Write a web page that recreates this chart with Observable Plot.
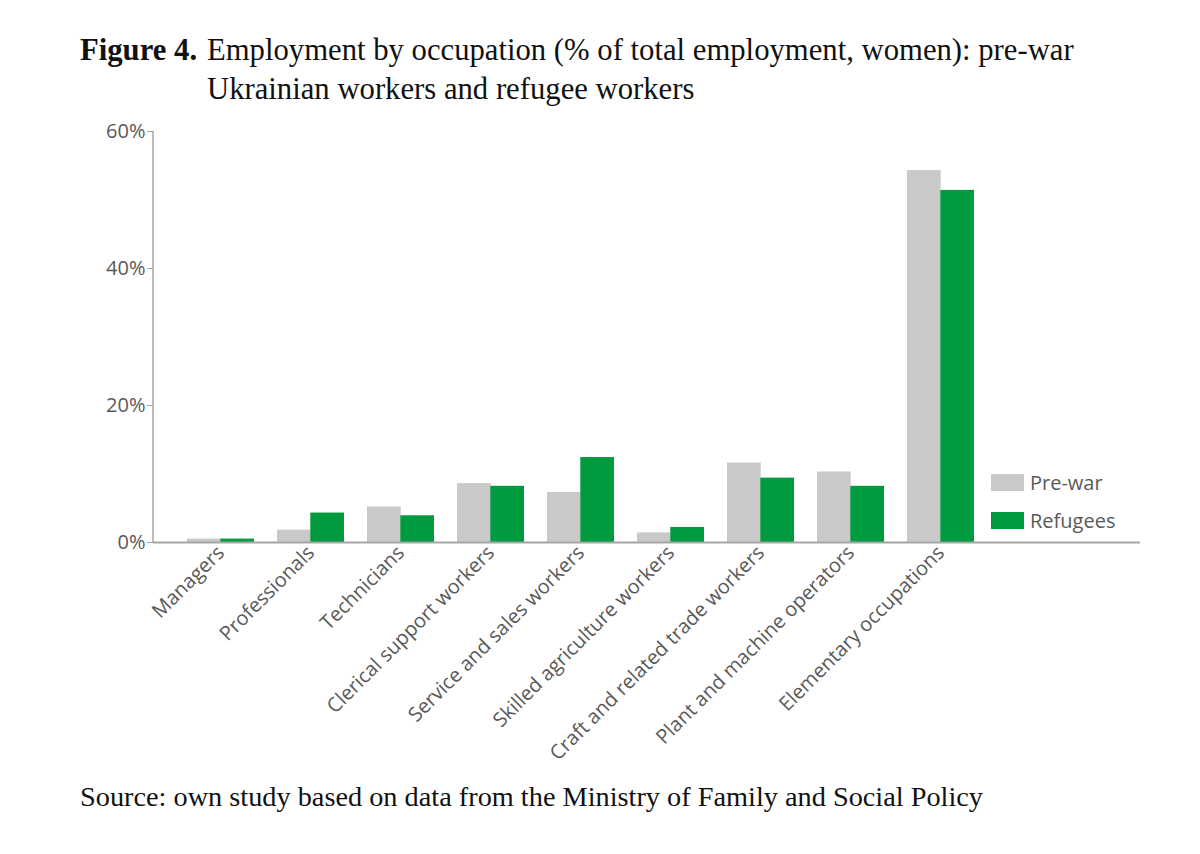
<!DOCTYPE html>
<html>
<head>
<meta charset="utf-8">
<script src="https://cdn.jsdelivr.net/npm/d3@7"></script>
<script src="https://cdn.jsdelivr.net/npm/@observablehq/plot@0.6"></script>
<style>
  html, body { margin: 0; padding: 0; background: #fff; }
  #page { position: relative; width: 1200px; height: 854px; overflow: hidden; }
  #title { box-sizing: border-box; height: 110px; padding: 31px 0 0 80px; display: flex;
           font-family: "Liberation Serif", "DejaVu Serif", serif; font-size: 30.7px; line-height: 39px; color: #111; }
  #title .lab { width: 127px; flex: none; font-weight: bold; }
  #chart svg { display: block; }
  #chart svg text { font-size: 20px; }
  #caption { margin: 11px 0 0 80px; font-family: "Liberation Serif", serif; font-size: 28.3px; line-height: 32px; color: #111; }
  .leg { position: absolute; font-family: "Open Sans", sans-serif; font-size: 20px; color: #595959; display: flex; align-items: center; }
  .leg span.sw { display: inline-block; width: 33px; height: 17px; margin-right: 6px; }
</style>
</head>
<body>
<div id="page">
  <div id="title"><div class="lab">Figure 4.</div><div>Employment by occupation (% of total employment, women): pre-war<br>Ukrainian workers and refugee workers</div></div>
  <div id="chart"></div>
  <div id="caption">Source: own study based on data from the Ministry of Family and Social Policy</div>
  <div id="legend"></div>
</div>
<script>
const categories = [
  "Managers", "Professionals", "Technicians", "Clerical support workers",
  "Service and sales workers", "Skilled agriculture workers",
  "Craft and related trade workers", "Plant and machine operators", "Elementary occupations"
];
const preWar   = [0.5, 1.8, 5.2, 8.6, 7.3, 1.4, 11.6, 10.3, 54.3];
const refugees = [0.5, 4.3, 3.9, 8.2, 12.4, 2.2, 9.4, 8.2, 51.4];
const seriesNames = ["Pre-war", "Refugees"];
const seriesColors = ["#c9c9c9", "#009b3e"];
const yTicks = [0, 20, 40, 60];

const rows = categories.flatMap((c, i) => [
  {category: c, series: seriesNames[0], value: preWar[i]},
  {category: c, series: seriesNames[1], value: refugees[i]}
]);

// layout
const W = 1200, H = 660;
const xRange = [175, 985];
const padInner = 0.26, padOuter = 0.13;
const step = (xRange[1] - xRange[0]) / (categories.length - padInner + 2 * padOuter);
const half = step * (1 - padInner) / 2;

const yAxisLine = (index, scales, values, dims) => {
  const g = d3.create("svg:line")
    .attr("x1", dims.marginLeft).attr("x2", dims.marginLeft)
    .attr("y1", scales.y(0)).attr("y2", scales.y(60))
    .attr("stroke", "#a6a6a6").attr("stroke-width", 1.5);
  return g.node();
};

const plot = Plot.plot({
  width: W, height: H,
  marginLeft: 153, marginRight: 60, marginTop: 21, marginBottom: 228,
  style: {fontFamily: "Open Sans, sans-serif", fontSize: "20px", color: "#595959", background: "white"},
  x: {domain: categories, range: xRange, paddingInner: padInner, paddingOuter: padOuter, label: null},
  y: {domain: [0, 60], label: null},
  marks: [
    Plot.barY(rows.filter(d => d.series === seriesNames[0]), {x: "category", y: "value", fill: seriesColors[0], insetRight: half}),
    Plot.barY(rows.filter(d => d.series === seriesNames[1]), {x: "category", y: "value", fill: seriesColors[1], insetLeft: half}),
    Plot.axisY({ticks: yTicks, tickFormat: d => d + "%", tickSize: 6, tickPadding: 2, stroke: "#a6a6a6", fill: "#595959", label: null}),
    Plot.axisX({tickRotate: -45, tickSize: 0, tickPadding: 7, fill: "#595959", label: null}),
    Plot.ruleY([0], {stroke: "#a6a6a6", strokeWidth: 2}),
    yAxisLine
  ]
});
document.getElementById("chart").appendChild(plot);

// legend
const legendTops = [474, 512];
const leg = document.getElementById("legend");
seriesNames.forEach((name, i) => {
  const d = document.createElement("div");
  d.className = "leg";
  d.style.left = "991px";
  d.style.top = (legendTops[i] - 5) + "px";
  d.innerHTML = `<span class="sw" style="background:${seriesColors[i]}"></span><span>${name}</span>`;
  leg.appendChild(d);
});
</script>
</body>
</html>
